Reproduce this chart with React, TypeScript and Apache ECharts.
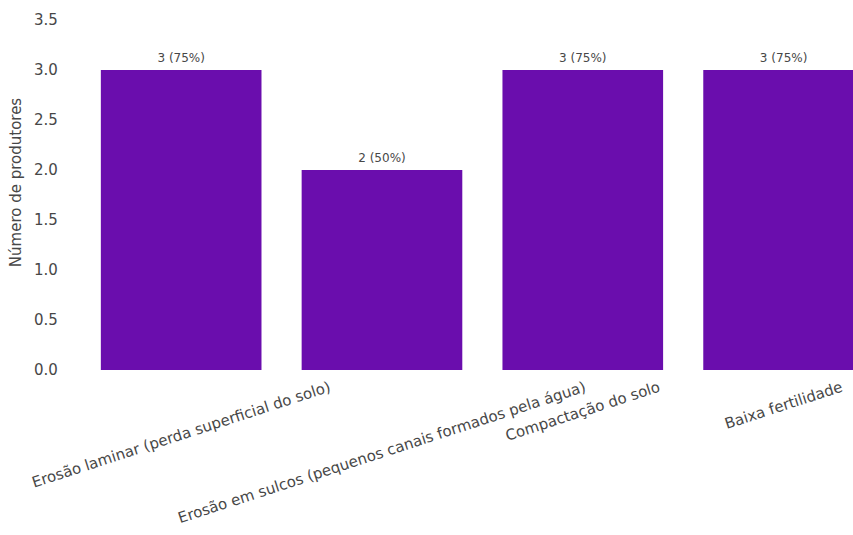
import React, { useEffect, useRef } from "react";
import * as echarts from "echarts";

const categories = [
  "Erosão laminar (perda superficial do solo)",
  "Erosão em sulcos (pequenos canais formados pela água)",
  "Compactação do solo",
  "Baixa fertilidade",
];
const producerCounts = [3, 2, 3, 3];
const totalProducers = 4;
const yAxisTitle = "Número de produtores";

const FONT = "DejaVu Sans";
const TICK_SIZE = 15;
const BAR_LABEL_SIZE = 12;
const ROT_DEG = 18;
const TEXT_COLOR = "#474747";
const BAR_COLOR = "#6a0dad";

function measure(text: string, size: number): number {
  const ctx = document.createElement("canvas").getContext("2d");
  if (!ctx) return text.length * size * 0.55;
  ctx.font = `${size}px "${FONT}"`;
  return ctx.measureText(text).width;
}

export default function App() {
  const ref = useRef<HTMLDivElement>(null);

  useEffect(() => {
    if (!ref.current) return;
    const chart = echarts.init(ref.current, undefined, { renderer: "svg" });
    const th = (ROT_DEG * Math.PI) / 180;

    chart.setOption({
      animation: false,
      backgroundColor: "#ffffff",
      grid: { left: 80, top: 0, width: 804, height: 375 },
      xAxis: {
        type: "category",
        data: categories,
        axisLine: { show: false },
        axisTick: { show: false },
        axisLabel: { show: false },
        splitLine: { show: false },
      },
      yAxis: {
        type: "value",
        min: 0,
        max: 3.75,
        interval: 0.5,
        name: yAxisTitle,
        nameLocation: "middle",
        nameGap: 49,
        nameTextStyle: {
          fontFamily: FONT,
          fontSize: TICK_SIZE,
          color: TEXT_COLOR,
        },
        axisLine: { show: false },
        axisTick: { show: false },
        splitLine: { show: false },
        axisLabel: {
          showMaxLabel: false,
          margin: 23,
          fontFamily: FONT,
          fontSize: TICK_SIZE,
          color: TEXT_COLOR,
          formatter: (v: number) => v.toFixed(1),
        },
      },
      series: [
        {
          type: "bar",
          data: producerCounts,
          barCategoryGap: "20%",
          itemStyle: { color: BAR_COLOR },
          label: {
            show: true,
            position: "top",
            distance: 6,
            fontFamily: FONT,
            fontSize: BAR_LABEL_SIZE,
            color: TEXT_COLOR,
            formatter: (p: any) =>
              `${p.value} (${Math.round((p.value / totalProducers) * 100)}%)`,
          },
        },
        {
          type: "custom",
          silent: true,
          clip: false,
          data: categories.map((_, i) => [i, 0]),
          renderItem: (_params: any, api: any) => {
            const idx = api.value(0) as number;
            const text = categories[idx];
            const p = api.coord([idx, 0]);
            const L = measure(text, TICK_SIZE);
            const h = TICK_SIZE * 1.17;
            const off = 8 + (L / 2) * Math.sin(th) + (h / 2) * Math.cos(th);
            return {
              type: "text",
              x: p[0],
              y: p[1] + off,
              rotation: th,
              style: {
                text,
                align: "center",
                verticalAlign: "middle",
                fontFamily: FONT,
                fontSize: TICK_SIZE,
                fill: TEXT_COLOR,
              },
            };
          },
        },
      ],
    });

    return () => chart.dispose();
  }, []);

  return (
    <div
      style={{
        position: "absolute",
        left: 0,
        top: 0,
        width: 853,
        height: 535,
        overflow: "hidden",
        background: "#ffffff",
      }}
    >
      <div
        ref={ref}
        style={{ position: "absolute", left: 0, top: -5, width: 900, height: 545 }}
      />
    </div>
  );
}
